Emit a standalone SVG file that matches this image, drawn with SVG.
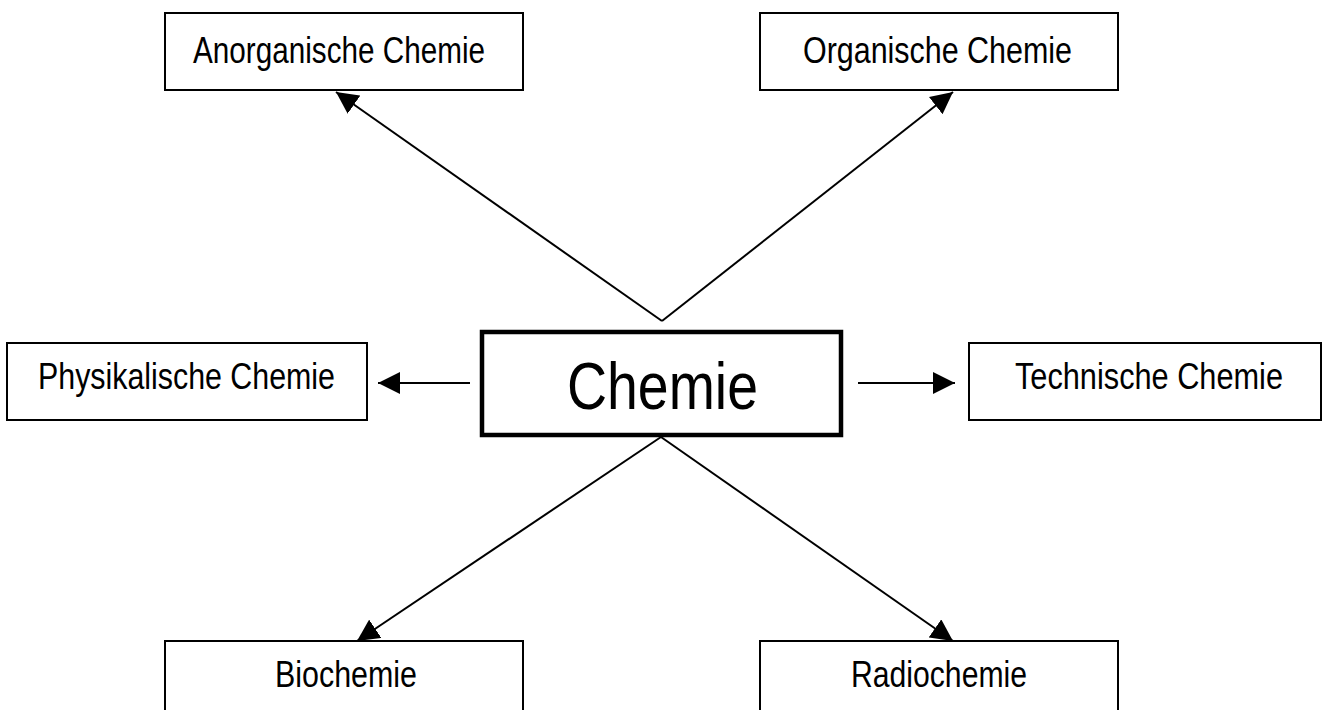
<svg xmlns="http://www.w3.org/2000/svg" width="1330" height="710" viewBox="0 0 1330 710">
<style>
.box{fill:#fff;stroke:#000;stroke-width:2}
.main{fill:#fff;stroke:#000;stroke-width:4.5}
.lbl{font-family:"Liberation Sans",Arial,sans-serif;font-size:36px;fill:#000}
.big{font-family:"Liberation Sans",Arial,sans-serif;font-size:66px;fill:#000}
.con{stroke:#000;stroke-width:2;fill:none}
</style>
<defs>
<marker id="ah" markerUnits="userSpaceOnUse" markerWidth="23" markerHeight="22" refX="22" refY="11" orient="auto">
<path d="M0,0 L22,11 L0,22 z" fill="#000"/>
</marker>
</defs>
<rect width="1330" height="710" fill="#fff"/>
<g id="connectors">
<line class="con" x1="662" y1="321" x2="336" y2="92" marker-end="url(#ah)"/>
<line class="con" x1="662" y1="321" x2="953" y2="92" marker-end="url(#ah)"/>
<line class="con" x1="470" y1="383" x2="378" y2="383" marker-end="url(#ah)"/>
<line class="con" x1="858" y1="383" x2="955" y2="383" marker-end="url(#ah)"/>
<line class="con" x1="661" y1="437" x2="357" y2="641" marker-end="url(#ah)"/>
<line class="con" x1="661" y1="437" x2="953" y2="641" marker-end="url(#ah)"/>
</g>
<g id="node-anorganische">
<rect class="box" x="165" y="13" width="358" height="77"/>
<text class="lbl" x="193" y="63" textLength="292" lengthAdjust="spacingAndGlyphs">Anorganische Chemie</text>
</g>
<g id="node-organische">
<rect class="box" x="760" y="13" width="358" height="77"/>
<text class="lbl" x="803" y="63" textLength="269" lengthAdjust="spacingAndGlyphs">Organische Chemie</text>
</g>
<g id="node-physikalische">
<rect class="box" x="7" y="343" width="360" height="77"/>
<text class="lbl" x="38" y="389" textLength="297" lengthAdjust="spacingAndGlyphs">Physikalische Chemie</text>
</g>
<g id="node-chemie">
<rect class="main" x="482" y="332" width="359" height="103"/>
<text class="big" x="567" y="409" textLength="191" lengthAdjust="spacingAndGlyphs">Chemie</text>
</g>
<g id="node-technische">
<rect class="box" x="969" y="343" width="352" height="77"/>
<text class="lbl" x="1015" y="389" textLength="268" lengthAdjust="spacingAndGlyphs">Technische Chemie</text>
</g>
<g id="node-biochemie">
<rect class="box" x="165" y="641" width="358" height="100"/>
<text class="lbl" x="275" y="687" textLength="142" lengthAdjust="spacingAndGlyphs">Biochemie</text>
</g>
<g id="node-radiochemie">
<rect class="box" x="760" y="641" width="358" height="100"/>
<text class="lbl" x="851" y="687" textLength="176" lengthAdjust="spacingAndGlyphs">Radiochemie</text>
</g>
</svg>
